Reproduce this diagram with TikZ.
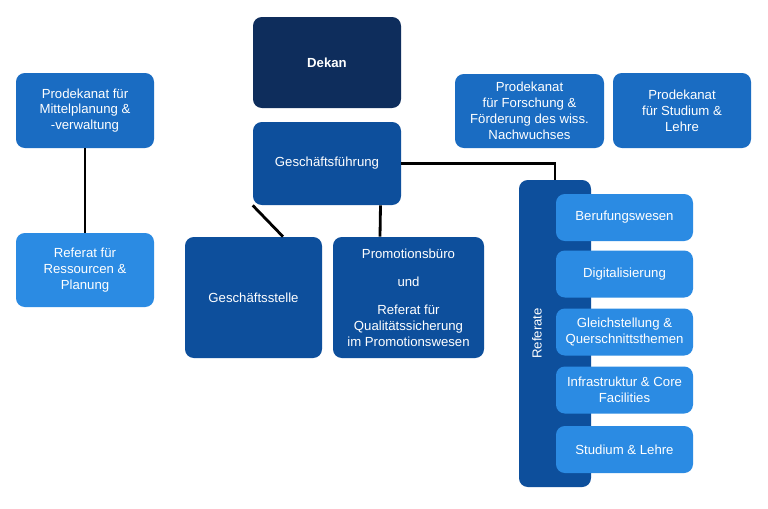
\documentclass[tikz,border=0pt]{standalone}
\usepackage{fontspec}
\setmainfont{Liberation Sans}
\definecolor{navy}{HTML}{0E2D5C}
\definecolor{midblue}{HTML}{0D4F9C}
\definecolor{prodblue}{HTML}{1A6CC2}
\definecolor{refblue}{HTML}{2B8BE3}
\begin{document}
\begin{tikzpicture}[x=0.02cm,y=-0.02cm,
    every node/.style={font=\fontsize{7.5}{9}\selectfont, text=white, align=center},
    box/.style={rounded corners=5pt, inner sep=0pt},
    link/.style={line width=1.6pt, black}]
\useasboundingbox (0,0) rectangle (768,508);
\fill[white] (0,0) rectangle (768,508);

% Leitung
\node[box, fill=navy, minimum width=148*0.02cm, minimum height=91*0.02cm, font=\fontsize{7.5}{9}\selectfont\bfseries] (dekan) at (327,62.5) {Dekan};
\node[box, fill=midblue, minimum width=148*0.02cm, minimum height=83*0.02cm] (gf) at (327,163.5) {Geschäftsführung};

% Prodekanate
\node[box, fill=prodblue, minimum width=138*0.02cm, minimum height=75*0.02cm] (mittel) at (85,110.5) {Prodekanat für\\Mittelplanung \&\\-verwaltung};
\node[box, fill=prodblue, minimum width=149*0.02cm, minimum height=74*0.02cm] (forsch) at (529.5,111) {Prodekanat\\für Forschung \&\\Förderung des wiss.\\Nachwuchses};
\node[box, fill=prodblue, minimum width=138*0.02cm, minimum height=75*0.02cm] (studium) at (682,110.5) {Prodekanat\\für Studium \&\\Lehre};
\node[box, fill=refblue, minimum width=138*0.02cm, minimum height=74*0.02cm] (ressourcen) at (85,270) {Referat für\\Ressourcen \&\\Planung};

% Geschäftsstelle und Promotionsbüro
\node[box, fill=midblue, minimum width=137*0.02cm, minimum height=121*0.02cm] (stelle) at (253.5,297.5) {Geschäftsstelle};
\node[box, fill=midblue, minimum width=151*0.02cm, minimum height=121*0.02cm] (promo) at (408.5,297.5) {Promotionsbüro\\[7pt]und\\[7pt]Referat für\\Qualitätssicherung\\im Promotionswesen};

% Referate
\node[box, fill=midblue, minimum width=72*0.02cm, minimum height=307*0.02cm] (referate) at (555,333.5) {};
\node[rotate=90] at (537,333.5) {Referate};
\foreach \name/\y/\txt in {beruf/217.5/Berufungswesen, digi/274/Digitalisierung,
    gleich/332/{Gleichstellung \&\\Querschnittsthemen}, infra/390/{Infrastruktur \& Core\\Facilities},
    lehre/449.5/{Studium \& Lehre}}
  \node[box, fill=refblue, minimum width=137*0.02cm, minimum height=47*0.02cm] (\name) at (624.5,\y) {\txt};

% Verbindungen
\draw[link] (mittel) -- (ressourcen);
\draw[link] (gf.south -| stelle.center) ++(-0.8,0) -- (stelle.north -| 283,0);
\draw[link] (gf.south -| promo.center) ++(-28,0) -- (stelle.north -| 380,0);
\draw[link] (gf.east) -- (gf.east -| referate.center) -- (referate.north);
\end{tikzpicture}
\end{document}
